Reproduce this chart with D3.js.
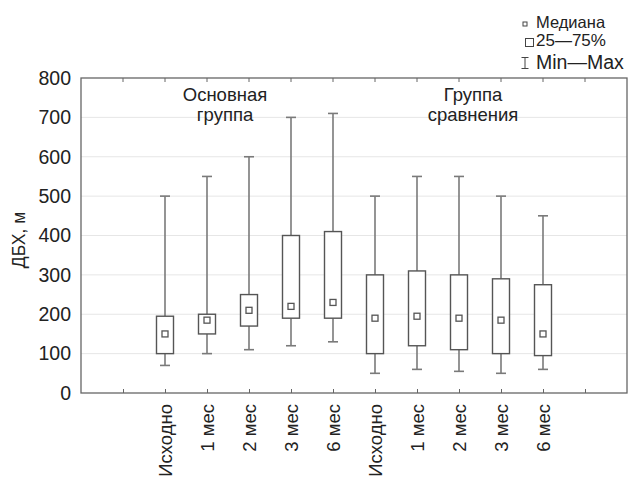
<!DOCTYPE html>
<html>
<head>
<meta charset="utf-8">
<script src="https://cdn.jsdelivr.net/npm/d3@7"></script>
<style>
  body { margin: 0; background: #fff; }
  text { font-family: "Liberation Sans", Arial, sans-serif; fill: #222; }
</style>
</head>
<body>
<div id="chart"></div>
<script>
// tick labels along the bottom (first and last slots are empty)
const slotLabels = ["", "Исходно", "1 мес", "2 мес", "3 мес", "6 мес",
                    "Исходно", "1 мес", "2 мес", "3 мес", "6 мес", ""];
// box values, in slot order (Основная группа then Группа сравнения)
const mins    = [70, 100, 110, 120, 130, 50, 60, 55, 50, 60];
const q1s     = [100, 150, 170, 190, 190, 100, 120, 110, 100, 95];
const medians = [150, 185, 210, 220, 230, 190, 195, 190, 185, 150];
const q3s     = [195, 200, 250, 400, 410, 300, 310, 300, 290, 275];
const maxs    = [500, 550, 600, 700, 710, 500, 550, 550, 500, 450];
const yTicks  = [0, 100, 200, 300, 400, 500, 600, 700, 800];

const width = 633, height = 477;
const margins = {left: 81, right: 6, top: 78, bottom: 84};

const svg = d3.select("#chart").append("svg")
    .attr("width", width)
    .attr("height", height);

// x: slot positions 0..13, ticks at 1..12
const X_SCALE = d3.scaleLinear()
    .domain([0, slotLabels.length + 1])
    .range([margins.left, width - margins.right]);

const Y_SCALE = d3.scaleLinear()
    .domain([0, 800])
    .range([height - margins.bottom, margins.top]);

// gridlines
svg.append("g")
    .selectAll("line")
    .data(yTicks.slice(1, -1))
    .enter()
    .append("line")
        .attr("x1", X_SCALE(0))
        .attr("x2", X_SCALE(13))
        .attr("y1", d => Y_SCALE(d))
        .attr("y2", d => Y_SCALE(d))
        .attr("stroke", "#e6e6e6")
        .attr("stroke-width", 1);

// y axis labels
const yAxis = svg.append("g")
    .attr("transform", "translate(" + margins.left + ",0)")
    .call(d3.axisLeft(Y_SCALE).tickValues(yTicks).tickSize(0).tickPadding(10));
yAxis.select(".domain").remove();
yAxis.selectAll("text").attr("font-size", "19.5px").attr("fill", "#222");

// bottom axis with inward ticks and rotated labels
const slotTicks = d3.range(1, slotLabels.length + 1);
const xAxis = svg.append("g")
    .attr("transform", "translate(0," + Y_SCALE(0) + ")")
    .call(d3.axisBottom(X_SCALE).tickValues(slotTicks).tickSizeInner(-4).tickSizeOuter(0)
        .tickFormat((d) => slotLabels[d - 1]));
xAxis.select(".domain").remove();
xAxis.selectAll("line").attr("stroke", "#666");
xAxis.selectAll("text")
    .attr("font-size", "18.5px")
    .attr("fill", "#222")
    .attr("text-anchor", "end")
    .attr("transform", "rotate(-90)")
    .attr("x", -11)
    .attr("y", 0)
    .attr("dy", "0.35em");

// top ticks pointing down
svg.append("g")
    .selectAll("line")
    .data(slotTicks)
    .enter()
    .append("line")
        .attr("x1", d => X_SCALE(d))
        .attr("x2", d => X_SCALE(d))
        .attr("y1", Y_SCALE(800))
        .attr("y2", Y_SCALE(800) + 4)
        .attr("stroke", "#666");

// frame
svg.append("rect")
    .attr("x", X_SCALE(0))
    .attr("y", Y_SCALE(800))
    .attr("width", X_SCALE(13) - X_SCALE(0))
    .attr("height", Y_SCALE(0) - Y_SCALE(800))
    .attr("fill", "none")
    .attr("stroke", "#666")
    .attr("stroke-width", 1.3);

// boxes
const boxData = medians.map((m, i) => ({
    slot: i + 2, min: mins[i], q1: q1s[i], med: m, q3: q3s[i], max: maxs[i]
}));
const boxW = 17, capW = 10, medS = 6;

const boxes = svg.append("g")
    .selectAll("g")
    .data(boxData)
    .enter()
    .append("g");

// whiskers
boxes.append("line")
    .attr("x1", d => X_SCALE(d.slot))
    .attr("x2", d => X_SCALE(d.slot))
    .attr("y1", d => Y_SCALE(d.max))
    .attr("y2", d => Y_SCALE(d.q3))
    .attr("stroke", "#7a7a7a")
    .attr("stroke-width", 1.6);
boxes.append("line")
    .attr("x1", d => X_SCALE(d.slot))
    .attr("x2", d => X_SCALE(d.slot))
    .attr("y1", d => Y_SCALE(d.q1))
    .attr("y2", d => Y_SCALE(d.min))
    .attr("stroke", "#7a7a7a")
    .attr("stroke-width", 1.6);
// caps
boxes.append("line")
    .attr("x1", d => X_SCALE(d.slot) - capW / 2)
    .attr("x2", d => X_SCALE(d.slot) + capW / 2)
    .attr("y1", d => Y_SCALE(d.max))
    .attr("y2", d => Y_SCALE(d.max))
    .attr("stroke", "#7a7a7a")
    .attr("stroke-width", 1.6);
boxes.append("line")
    .attr("x1", d => X_SCALE(d.slot) - capW / 2)
    .attr("x2", d => X_SCALE(d.slot) + capW / 2)
    .attr("y1", d => Y_SCALE(d.min))
    .attr("y2", d => Y_SCALE(d.min))
    .attr("stroke", "#7a7a7a")
    .attr("stroke-width", 1.6);
// 25-75 box
boxes.append("rect")
    .attr("x", d => X_SCALE(d.slot) - boxW / 2)
    .attr("y", d => Y_SCALE(d.q3))
    .attr("width", boxW)
    .attr("height", d => Y_SCALE(d.q1) - Y_SCALE(d.q3))
    .attr("fill", "#fff")
    .attr("stroke", "#555")
    .attr("stroke-width", 1.4);
// median marker
boxes.append("rect")
    .attr("x", d => X_SCALE(d.slot) - medS / 2)
    .attr("y", d => Y_SCALE(d.med) - medS / 2)
    .attr("width", medS)
    .attr("height", medS)
    .attr("fill", "#fff")
    .attr("stroke", "#555")
    .attr("stroke-width", 1.3);

// group captions
const captions = [
    {x: 225, lines: ["Основная", "группа"]},
    {x: 473, lines: ["Группа", "сравнения"]}
];
captions.forEach((c) => {
    c.lines.forEach((t, k) => {
        svg.append("text")
            .attr("x", c.x)
            .attr("y", 101 + k * 20)
            .attr("text-anchor", "middle")
            .attr("font-size", "18.5px")
            .text(t);
    });
});

// y axis title
svg.append("text")
    .attr("transform", "translate(25,240) rotate(-90)")
    .attr("text-anchor", "middle")
    .attr("font-size", "17.5px")
    .text("ДБХ, м");

// legend
const legend = svg.append("g");
legend.append("rect")
    .attr("x", 523).attr("y", 22).attr("width", 4).attr("height", 4)
    .attr("fill", "#fff").attr("stroke", "#444").attr("stroke-width", 1);
legend.append("text").attr("x", 536).attr("y", 28).attr("font-size", "16.5px").text("Медиана");
legend.append("rect")
    .attr("x", 525.5).attr("y", 38.5).attr("width", 8).attr("height", 8)
    .attr("fill", "#fff").attr("stroke", "#444").attr("stroke-width", 1);
legend.append("text").attr("x", 536).attr("y", 46).attr("font-size", "17px").text("25—75%");
legend.append("path")
    .attr("d", "M521.5,57.5H528.5M525,57.5V68.5M521.5,68.5H528.5")
    .attr("fill", "none").attr("stroke", "#444").attr("stroke-width", 1);
legend.append("text").attr("x", 536).attr("y", 69).attr("font-size", "19.5px").text("Min—Max");
</script>
</body>
</html>
